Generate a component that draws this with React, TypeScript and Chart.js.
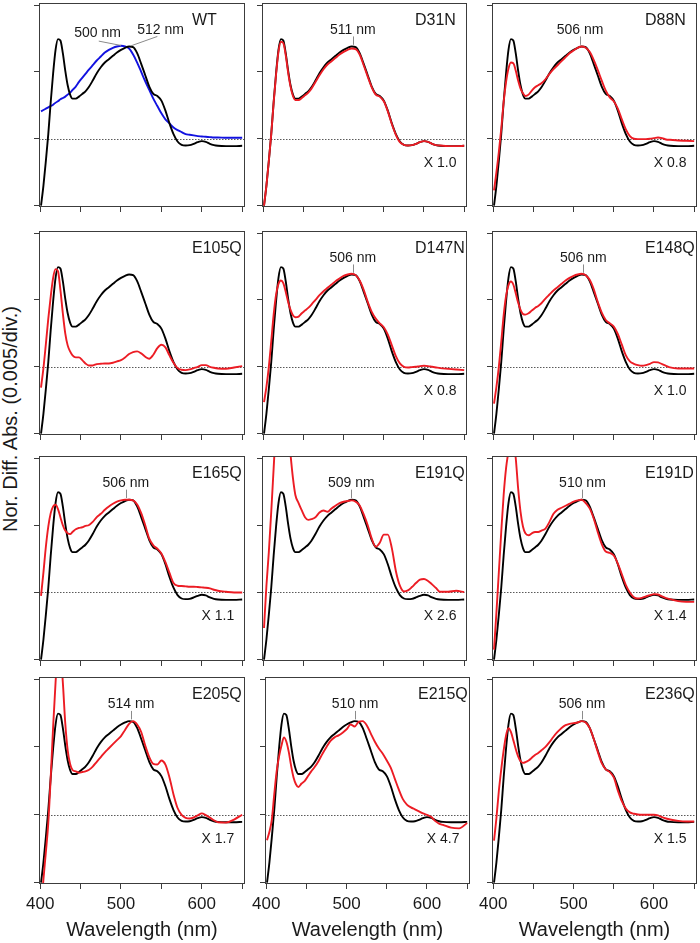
import React, { useEffect, useRef } from 'react';
import { Chart, registerables } from 'chart.js';

Chart.register(...registerables);

const FONT = '"Liberation Sans", Arial, Helvetica, sans-serif';
Chart.defaults.font.family = FONT;

// ---------------- data ----------------
const wavelengths = [
  401, 404, 407, 410, 413, 416, 419, 422, 425, 428, 431, 434, 437, 440,
  444, 448, 452, 456, 460,
  465, 470, 475, 480, 485, 490, 495, 500, 505, 510, 515, 520, 525, 530, 535, 540,
  545, 550, 555, 560, 565, 570, 575, 580, 585, 590, 595, 600, 605, 610, 615, 620,
  630, 640, 650,
];

// WT light-minus-dark difference spectrum (black, every panel)
const wtDifference = [
  -1.0, -0.7, -0.33, 0.07, 0.55, 0.98, 1.33, 1.49, 1.47, 1.28, 1.02, 0.8, 0.66, 0.6,
  0.6, 0.63, 0.67, 0.71, 0.77,
  0.87, 0.98, 1.07, 1.14, 1.19, 1.24, 1.29, 1.33, 1.36, 1.38, 1.37, 1.28, 1.12, 0.95, 0.78, 0.67,
  0.64, 0.57, 0.42, 0.23, 0.07, -0.04, -0.09, -0.1, -0.095, -0.075, -0.05, -0.035, -0.045, -0.075, -0.095, -0.105,
  -0.11, -0.11, -0.105,
];

// WT absorption spectrum (blue, WT panel)
const wtAbsorption = [
  0.41, 0.43, 0.45, 0.47, 0.49, 0.51, 0.54, 0.56, 0.59, 0.61, 0.63, 0.66, 0.69, 0.73,
  0.78, 0.85, 0.91, 0.97, 1.03,
  1.1, 1.17, 1.23, 1.29, 1.33, 1.36, 1.38, 1.39, 1.38, 1.35, 1.26, 1.14, 1.0, 0.86, 0.73, 0.6,
  0.49, 0.38, 0.29, 0.23, 0.17, 0.13, 0.1, 0.07, 0.06, 0.05, 0.04, 0.035, 0.03, 0.025, 0.02, 0.02,
  0.015, 0.015, 0.015,
];

const d31n = [
  -1.0, -0.7, -0.33, 0.07, 0.54, 0.96, 1.3, 1.45, 1.43, 1.25, 0.99, 0.78, 0.64, 0.58,
  0.58, 0.61, 0.65, 0.69, 0.75,
  0.85, 0.95, 1.04, 1.11, 1.16, 1.21, 1.26, 1.3, 1.33, 1.35, 1.34, 1.26, 1.1, 0.93, 0.77, 0.66,
  0.63, 0.56, 0.41, 0.22, 0.06, -0.05, -0.09, -0.1, -0.095, -0.075, -0.05, -0.035, -0.045, -0.075, -0.095, -0.1,
  -0.11, -0.11, -0.105,
];

const d88n = [
  -0.77, -0.5, -0.2, 0.15, 0.55, 0.85, 1.05, 1.14, 1.13, 1.02, 0.87, 0.75, 0.68, 0.64,
  0.66, 0.72, 0.77, 0.8, 0.83,
  0.89, 0.97, 1.04, 1.1, 1.16, 1.22, 1.28, 1.32, 1.36, 1.38, 1.36, 1.3, 1.18, 1.03, 0.87, 0.72,
  0.62, 0.56, 0.45, 0.29, 0.14, 0.04, 0.0, -0.005, -0.005, -0.005, 0.0, 0.01, 0.02, 0.01, -0.01, -0.015,
  -0.025, -0.03, -0.035,
];

const e105q = [
  -0.31, -0.02, 0.34, 0.72, 1.05, 1.33, 1.46, 1.43, 1.15, 0.8, 0.5, 0.32, 0.23, 0.17,
  0.14, 0.14, 0.1, 0.05, 0.02,
  0.02, 0.04, 0.045, 0.05, 0.05, 0.06, 0.08, 0.1, 0.14, 0.19, 0.22, 0.23, 0.2, 0.15, 0.12, 0.18,
  0.28, 0.33, 0.29, 0.17, 0.06, -0.02, -0.045, -0.05, -0.04, -0.02, 0.0, 0.025, 0.025, 0.0, -0.015, -0.025,
  -0.03, -0.01, 0.01,
];

const d147n = [
  -0.53, -0.3, 0.0, 0.38, 0.78, 1.08, 1.24, 1.29, 1.25, 1.12, 0.97, 0.85, 0.77, 0.74,
  0.75, 0.8, 0.84, 0.88, 0.93,
  1.0, 1.07, 1.13, 1.18, 1.23, 1.28, 1.32, 1.36, 1.38, 1.39, 1.37, 1.29, 1.15, 0.97, 0.82, 0.72,
  0.65, 0.59, 0.48, 0.32, 0.16, 0.05, 0.0, -0.01, -0.005, 0.0, 0.01, 0.015, 0.01, 0.0, -0.01, -0.02,
  -0.03, -0.04, -0.05,
];

const e148q = [
  -0.55, -0.3, 0.0, 0.37, 0.77, 1.06, 1.22, 1.275, 1.23, 1.1, 0.96, 0.85, 0.79, 0.78,
  0.8, 0.84, 0.88, 0.91, 0.95,
  1.02, 1.08, 1.14, 1.19, 1.24, 1.29, 1.33, 1.36, 1.38, 1.39, 1.37, 1.3, 1.16, 0.97, 0.81, 0.7,
  0.65, 0.6, 0.49, 0.33, 0.17, 0.08, 0.045, 0.025, 0.015, 0.025, 0.045, 0.07, 0.065, 0.04, 0.015, -0.01,
  -0.025, -0.025, -0.025,
];

const e165q = [
  -0.05, 0.3, 0.68, 0.98, 1.18, 1.28, 1.305, 1.24, 1.12, 1.0, 0.92, 0.88, 0.87, 0.9,
  0.94, 0.96, 0.97, 0.99, 1.0,
  1.05, 1.12, 1.17, 1.23, 1.28, 1.32, 1.35, 1.37, 1.38, 1.38, 1.37, 1.31, 1.18, 1.0, 0.8, 0.7,
  0.65, 0.58, 0.45, 0.29, 0.14, 0.1, 0.095, 0.09, 0.085, 0.085, 0.08, 0.075, 0.07, 0.06, 0.04, 0.025,
  0.01, 0.0, 0.0,
];

const e191q = [
  -0.53, 0.1, 0.6, 1.2, 1.85, 2.5, 3.0, 3.2, 3.15, 2.85, 2.45, 2.05, 1.7, 1.45,
  1.33, 1.22, 1.12, 1.08, 1.09,
  1.12, 1.19, 1.22, 1.2, 1.25, 1.29, 1.33, 1.35, 1.36, 1.37, 1.35, 1.295, 1.16, 1.0, 0.8, 0.68,
  0.74, 0.86, 0.86, 0.66, 0.32, 0.1, 0.015, 0.03, 0.08, 0.14, 0.19, 0.2, 0.17, 0.12, 0.065, 0.01,
  0.01, 0.025, 0.005,
];

const e191d = [
  -0.85, -0.3, 0.3, 0.9, 1.45, 1.85, 2.1, 2.3, 2.25, 2.0, 1.55, 1.2, 0.98, 0.88,
  0.85, 0.88, 0.9, 0.9, 0.92,
  0.95, 1.05, 1.17, 1.23, 1.26, 1.29, 1.32, 1.35, 1.37, 1.38, 1.33, 1.25, 1.1, 0.9, 0.72, 0.61,
  0.59, 0.55, 0.43, 0.27, 0.11, 0.0, -0.07, -0.09, -0.08, -0.06, -0.04, -0.025, -0.03, -0.06, -0.085, -0.1,
  -0.13, -0.14, -0.14,
];

const e205q = [
  -1.4, -0.95, -0.55, -0.12, 0.55, 1.3, 1.95, 2.4, 2.4, 1.95, 1.35, 0.95, 0.75, 0.66,
  0.64, 0.62, 0.63, 0.64, 0.66,
  0.71, 0.78, 0.85, 0.92, 0.98, 1.04, 1.1, 1.16, 1.25, 1.34, 1.38, 1.33, 1.22, 1.02, 0.85, 0.75,
  0.74, 0.8, 0.74, 0.55, 0.3, 0.1, 0.0, -0.045, -0.055, -0.04, -0.01, 0.02, -0.005, -0.04, -0.08, -0.11,
  -0.115, -0.07, 0.0,
];

const e215q = [
  -0.375, -0.25, -0.07, 0.3, 0.64, 0.86, 1.02, 1.14, 1.08, 0.93, 0.72, 0.55, 0.45, 0.41,
  0.46, 0.5, 0.57, 0.64, 0.7,
  0.79, 0.9, 1.0, 1.09, 1.14, 1.17, 1.21, 1.26, 1.33, 1.3, 1.37, 1.38, 1.32, 1.2, 1.08, 0.98,
  0.9, 0.8, 0.69, 0.53, 0.37, 0.23, 0.15, 0.11, 0.08, 0.05, 0.02, 0.0, -0.03, -0.09, -0.13, -0.15,
  -0.19, -0.2, -0.12,
];

const e236q = [
  -0.38, -0.05, 0.35, 0.67, 0.95, 1.17, 1.275, 1.22, 1.1, 0.97, 0.86, 0.79, 0.765, 0.775,
  0.8, 0.84, 0.88, 0.91, 0.95,
  1.0, 1.07, 1.15, 1.22, 1.28, 1.32, 1.34, 1.35, 1.36, 1.38, 1.36, 1.28, 1.12, 0.93, 0.76, 0.67,
  0.63, 0.55, 0.36, 0.2, 0.09, 0.035, 0.015, 0.005, 0.0, 0.0, 0.0, 0.0, -0.01, -0.035, -0.055, -0.07,
  -0.09, -0.1, -0.1,
];

const panelNames = ['WT', 'D31N', 'D88N', 'E105Q', 'D147N', 'E148Q', 'E165Q', 'E191Q', 'E191D', 'E205Q', 'E215Q', 'E236Q'];
const panelSeries = [wtAbsorption, d31n, d88n, e105q, d147n, e148q, e165q, e191q, e191d, e205q, e215q, e236q];
const peakLabels = [null, '511 nm', '506 nm', null, '506 nm', '506 nm', '506 nm', '509 nm', '510 nm', '514 nm', '510 nm', '506 nm'];
const peakMarks = [null, 511.5, 508, null, 511.5, 512, 506, 509.5, 511, 512.5, 510.5, 510.5];
const scaleLabels = [null, 'X 1.0', 'X 0.8', null, 'X 0.8', 'X 1.0', 'X 1.1', 'X 2.6', 'X 1.4', 'X 1.7', 'X 4.7', 'X 1.5'];
const wtPeakLabels = ['500 nm', '512 nm'];
const wtPeakMarks = [500, 512.5];

const xTickValues = [400, 450, 500, 550, 600, 650];
const xLabelValues = [400, 500, 600];
const yTickValues = [-1, 0, 1, 2];

// ---------------- styles / layout ----------------
const X_MIN = 398.5;
const X_MAX = 653.5;
const Y_MIN = -1.02;
const Y_MAX = 2.03;
const RED = '#ec1c24';
const BLUE = '#1212e0';
const BLACK = '#000000';
const FRAME = '#3c3c3c';
const TEXT = '#1a1a1a';
const LEADER = '#8a8a8a';

const COL_LEFT = [39, 262, 492];
const COL_WIDTH = [206, 205, 205];
const ROW_TOP = [3, 231, 456, 677];
const ROW_HEIGHT = [204, 204, 205, 207];

function decorPlugin(index: number) {
  return {
    id: 'panelDecor',
    beforeDatasetsDraw(chart: any) {
      const { ctx, chartArea: a, scales } = chart;
      const y0 = Math.round(scales.y.getPixelForValue(0)) + 0.5;
      ctx.save();
      ctx.strokeStyle = '#5a5a5a';
      ctx.lineWidth = 1;
      ctx.setLineDash([1.5, 1.5]);
      ctx.beginPath();
      ctx.moveTo(a.left, y0);
      ctx.lineTo(a.right, y0);
      ctx.stroke();
      ctx.restore();
    },
    afterDatasetsDraw(chart: any) {
      const { ctx, chartArea: a, scales } = chart;
      const xs = scales.x;
      const ys = scales.y;
      ctx.save();
      // frame
      ctx.strokeStyle = FRAME;
      ctx.lineWidth = 1;
      ctx.strokeRect(a.left + 0.5, a.top + 0.5, a.right - a.left - 1, a.bottom - a.top - 1);

      // panel name
      ctx.fillStyle = TEXT;
      ctx.textBaseline = 'middle';
      ctx.textAlign = 'left';
      ctx.font = `16px ${FONT}`;
      ctx.fillText(panelNames[index], a.left + 153, ys.getPixelForValue(1.77));

      ctx.font = `14px ${FONT}`;
      ctx.textAlign = 'center';
      const leader = (x1: number, y1: number, x2: number, y2: number) => {
        ctx.strokeStyle = LEADER;
        ctx.lineWidth = 1;
        ctx.beginPath();
        ctx.moveTo(xs.getPixelForValue(x1), ys.getPixelForValue(y1));
        ctx.lineTo(xs.getPixelForValue(x2), ys.getPixelForValue(y2));
        ctx.stroke();
      };
      if (index === 0) {
        ctx.fillText(wtPeakLabels[0], xs.getPixelForValue(471), ys.getPixelForValue(1.58));
        ctx.fillText(wtPeakLabels[1], xs.getPixelForValue(549), ys.getPixelForValue(1.63));
        leader(472.5, 1.46, wtPeakMarks[0], 1.395);
        leader(545, 1.53, wtPeakMarks[1], 1.39);
      } else {
        const lbl = peakLabels[index];
        const pm = peakMarks[index];
        if (lbl && pm !== null) {
          ctx.fillText(lbl, xs.getPixelForValue(pm), ys.getPixelForValue(1.63));
          const px = Math.round(xs.getPixelForValue(pm)) + 0.5;
          ctx.strokeStyle = LEADER;
          ctx.beginPath();
          ctx.moveTo(px, ys.getPixelForValue(1.53));
          ctx.lineTo(px, ys.getPixelForValue(1.405));
          ctx.stroke();
        }
        const sl = scaleLabels[index];
        if (sl) {
          ctx.fillStyle = TEXT;
          ctx.fillText(sl, xs.getPixelForValue(620), ys.getPixelForValue(-0.36));
        }
      }
      ctx.restore();
    },
  };
}

function buildConfig(index: number, leftRoom: number, bottomRoom: number, isBottom: boolean): any {
  const second = panelSeries[index];
  const isWT = index === 0;
  return {
    type: 'line',
    data: {
      datasets: [
        {
          label: panelNames[index],
          data: wavelengths.map((w, k) => ({ x: w, y: second[k] })),
          borderColor: isWT ? BLUE : RED,
          borderWidth: 1.9,
          pointRadius: 0,
          cubicInterpolationMode: 'monotone',
          order: isWT ? 1 : 0,
        },
        {
          label: 'WT difference',
          data: wavelengths.map((w, k) => ({ x: w, y: wtDifference[k] })),
          borderColor: BLACK,
          borderWidth: 1.9,
          pointRadius: 0,
          cubicInterpolationMode: 'monotone',
          order: isWT ? 0 : 1,
        },
      ],
    },
    options: {
      animation: false,
      responsive: false,
      devicePixelRatio: 1,
      layout: { padding: { left: 0, top: 2, right: 2, bottom: 0 } },
      plugins: { legend: { display: false }, tooltip: { enabled: false }, title: { display: false } },
      scales: {
        x: {
          type: 'linear',
          min: X_MIN,
          max: X_MAX,
          afterBuildTicks: (s: any) => {
            s.ticks = xTickValues.map((v) => ({ value: v }));
          },
          afterFit: (s: any) => {
            s.height = bottomRoom;
            s.paddingLeft = 0;
            s.paddingRight = 0;
          },
          ticks: {
            autoSkip: false,
            maxRotation: 0,
            minRotation: 0,
            padding: 5,
            color: TEXT,
            font: { size: 17 },
            callback: (v: any) => (isBottom && xLabelValues.includes(Number(v)) ? String(v) : ''),
          },
          grid: { drawOnChartArea: false, drawTicks: true, tickLength: 5, color: FRAME, lineWidth: 1 },
          border: { display: false },
          title: {
            display: isBottom,
            text: 'Wavelength (nm)',
            color: TEXT,
            font: { size: 20 },
            padding: 0,
          },
        },
        y: {
          type: 'linear',
          min: Y_MIN,
          max: Y_MAX,
          afterBuildTicks: (s: any) => {
            s.ticks = yTickValues.map((v) => ({ value: v }));
          },
          afterFit: (s: any) => {
            s.width = leftRoom;
            s.paddingTop = 0;
            s.paddingBottom = 0;
          },
          ticks: { display: false },
          grid: { drawOnChartArea: false, drawTicks: true, tickLength: 5, color: FRAME, lineWidth: 1 },
          border: { display: false },
        },
      },
    },
    plugins: [decorPlugin(index)],
  };
}

function Panel({ index }: { index: number }) {
  const ref = useRef<HTMLCanvasElement | null>(null);
  const row = Math.floor(index / 3);
  const col = index % 3;
  const isBottom = row === 3;
  const leftRoom = isBottom ? 20 : 10;
  const bottomRoom = isBottom ? 58 : 8;
  const frameLeft = COL_LEFT[col] + (isBottom && col === 1 ? 3 : 0);
  const width = COL_WIDTH[col] + leftRoom + 2;
  const height = ROW_HEIGHT[row] + 2 + bottomRoom;

  useEffect(() => {
    if (!ref.current) return;
    const chart = new Chart(ref.current, buildConfig(index, leftRoom, bottomRoom, isBottom));
    return () => chart.destroy();
  }, [index]);

  return (
    <canvas
      ref={ref}
      width={width}
      height={height}
      style={{ position: 'absolute', left: frameLeft - leftRoom, top: ROW_TOP[row] - 2, width, height }}
    />
  );
}

export default function App() {
  return (
    <div
      style={{
        position: 'absolute',
        left: 0,
        top: 0,
        width: 700,
        height: 943,
        background: '#ffffff',
        overflow: 'hidden',
      }}
    >
      {panelNames.map((_, i) => (
        <Panel key={i} index={i} />
      ))}
      <div
        style={{
          position: 'absolute',
          left: 10 - 200,
          top: 419 - 12,
          width: 400,
          height: 24,
          lineHeight: '24px',
          textAlign: 'center',
          fontFamily: FONT,
          fontSize: 20,
          color: TEXT,
          transform: 'rotate(-90deg)',
          whiteSpace: 'nowrap',
        }}
      >
        Nor. Diff. Abs. (0.005/div.)
      </div>
    </div>
  );
}
